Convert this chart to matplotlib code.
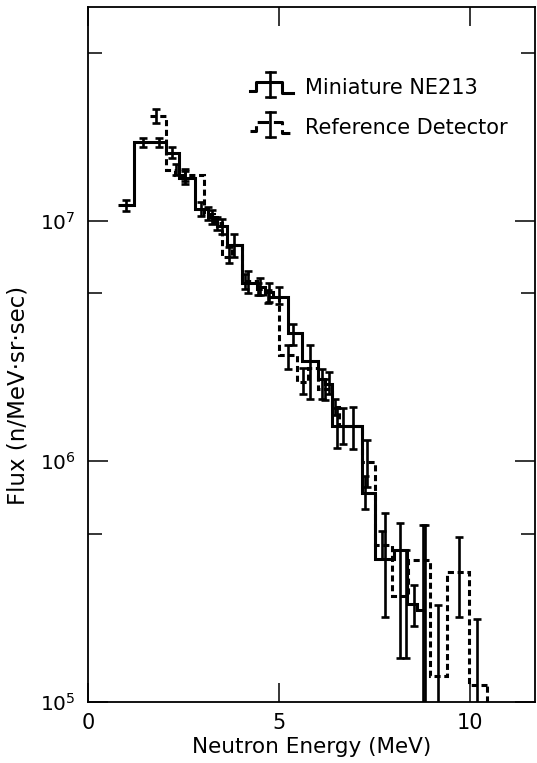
import numpy as np
import matplotlib.pyplot as plt
from matplotlib.lines import Line2D
from matplotlib.legend_handler import HandlerBase
from matplotlib.ticker import FixedLocator, NullFormatter

# Miniature NE213 -- solid histogram (bin edges in MeV, flux)
s_edges = [0.79, 1.20, 1.62, 2.03, 2.39, 2.80, 3.15, 3.37, 3.63, 4.02, 4.41, 4.63, 4.85,
           5.24, 5.59, 6.03, 6.20, 6.38, 6.56, 6.80, 7.16, 7.51, 8.00, 8.35, 8.62, 8.80]
s_flux = [1.16e7, 2.12e7, 2.12e7, 1.92e7, 1.51e7, 1.12e7, 1.04e7, 9.5e6, 7.9e6, 5.5e6,
          5.3e6, 5.07e6, 4.84e6, 3.4e6, 2.61e6, 2.2e6, 2.1e6, 1.40e6, 1.40e6, 1.40e6,
          7.4e5, 3.9e5, 4.26e5, 2.55e5, 2.4e5]
# error bars: position, lower, upper
s_err_e = [1.00, 1.45, 1.85, 2.20, 2.55, 2.95, 3.25, 3.50, 3.82, 4.19, 4.50, 4.74, 5.00,
           5.36, 5.80, 6.13, 6.30, 6.51, 6.68, 6.94, 7.25, 7.78, 8.17, 8.52, 8.76]
s_err_lo = [1.10e7, 2.02e7, 2.02e7, 1.82e7, 1.42e7, 1.05e7, 9.7e6, 8.8e6, 7.1e6, 5.0e6,
            4.9e6, 4.6e6, 4.5e6, 3.04e6, 1.82e6, 1.82e6, 1.9e6, 1.13e6, 1.18e6, 1.12e6,
            6.3e5, 2.24e5, 1.51e5, 2.07e5, 8.0e4]
s_err_hi = [1.22e7, 2.22e7, 2.22e7, 2.02e7, 1.61e7, 1.20e7, 1.11e7, 1.02e7, 8.8e6, 6.2e6,
            5.8e6, 5.5e6, 5.3e6, 3.73e6, 3.04e6, 2.43e6, 2.35e6, 1.67e6, 1.67e6, 1.68e6,
            8.7e5, 6.07e5, 5.53e5, 3.04e5, 5.4e5]

# Reference detector -- dashed histogram
d_edges = [1.62, 2.03, 2.28, 3.04, 3.30, 3.50, 3.76, 4.02, 4.41, 4.63, 5.00, 5.48, 5.75,
           6.03, 6.38, 6.56, 7.16, 7.50, 7.95, 8.38, 8.95, 9.39, 9.96, 10.44]
d_flux = [2.73e7, 1.63e7, 1.55e7, 1.07e7, 9.8e6, 7.1e6, 7.9e6, 5.6e6, 5.2e6, 4.84e6,
          2.77e6, 2.14e6, 2.45e6, 2.0e6, 1.68e6, 1.40e6, 9.9e5, 4.47e5, 2.76e5, 3.87e5,
          1.28e5, 3.46e5, 1.17e5]
d_err_e = [1.77, 2.30, 2.54, 3.15, 3.38, 3.70, 4.10, 4.45, 4.70, 5.24, 5.62, 6.20, 6.47,
           7.30, 7.70, 8.31, 8.82, 9.17, 9.72, 10.19]
d_err_lo = [2.55e7, 1.55e7, 1.47e7, 1.01e7, 9.2e6, 6.7e6, 5.2e6, 4.9e6, 4.55e6, 2.42e6,
            1.9e6, 1.8e6, 1.55e6, 7.8e5, 3.9e5, 1.52e5, 9.0e4, 8.0e4, 2.24e5, 8.0e4]
d_err_hi = [2.92e7, 1.72e7, 1.64e7, 1.14e7, 1.04e7, 7.8e6, 6.0e6, 5.5e6, 5.15e6, 3.04e6,
            2.45e6, 2.2e6, 1.82e6, 1.22e6, 5.1e5, 4.27e5, 5.4e5, 2.51e5, 4.83e5, 2.21e5]

ymin, ymax = 1e5, 7.76e7
lw = 2.2
elw = 1.9
dash = (0, (2.0, 1.2))


def bin_value(edges, vals, e):
    i = np.searchsorted(edges, e) - 1
    return np.asarray(vals)[np.clip(i, 0, len(vals) - 1)]


class HandlerPulse(HandlerBase):
    def create_artists(self, legend, orig_handle, xdescent, ydescent, width, height,
                       fontsize, trans):
        x0, y0, w, h = -xdescent, -ydescent, width, height
        xs = [x0, x0 + 0.14 * w, x0 + 0.14 * w, x0 + 0.76 * w, x0 + 0.76 * w, x0 + w]
        ys = [y0 + 0.37 * h, y0 + 0.37 * h, y0 + 0.72 * h, y0 + 0.72 * h,
              y0 + 0.26 * h, y0 + 0.26 * h]
        pulse = Line2D(xs, ys, color='k', lw=lw, linestyle=orig_handle.get_linestyle(),
                       transform=trans)
        xm = x0 + 0.48 * w
        yb, yt = y0 + 0.10 * h, y0 + 1.15 * h
        bar = Line2D([xm, xm], [yb, yt], color='k', lw=elw, transform=trans)
        c1 = Line2D([xm - 3, xm + 3], [yt, yt], color='k', lw=elw, transform=trans)
        c2 = Line2D([xm - 3, xm + 3], [yb, yb], color='k', lw=elw, transform=trans)
        return [pulse, bar, c1, c2]


fig = plt.figure(figsize=(5.37, 7.63), dpi=100)
ax = fig.add_axes([0.164, 0.0806, 0.8323, 0.9102])

ax.stairs(s_flux, s_edges, baseline=None, color='k', lw=lw)
ax.stairs(d_flux, d_edges, baseline=None, color='k', lw=lw, linestyle=dash)
ax.vlines(d_edges[-1], ymin, d_flux[-1], color='k', lw=lw, linestyle=dash)

s_y = bin_value(s_edges, s_flux, s_err_e)
ax.errorbar(s_err_e, s_y, yerr=[s_y - np.array(s_err_lo), np.array(s_err_hi) - s_y],
            fmt='none', ecolor='k', elinewidth=elw, capsize=3, capthick=elw)
d_y = bin_value(d_edges, d_flux, d_err_e)
ax.errorbar(d_err_e, d_y, yerr=[d_y - np.array(d_err_lo), np.array(d_err_hi) - d_y],
            fmt='none', ecolor='k', elinewidth=elw, capsize=3, capthick=elw)

ax.set_yscale('log')
ax.set_xlim(0, 11.7)
ax.set_ylim(ymin, ymax)
ax.set_xticks([0, 5, 10])
ax.set_xticklabels(['0', '5', '10'])
ax.yaxis.set_major_locator(FixedLocator([1e5, 1e6, 1e7]))
ax.yaxis.set_minor_locator(FixedLocator([5e5, 5e6, 5e7]))
ax.yaxis.set_minor_formatter(NullFormatter())
ax.xaxis.set_minor_locator(FixedLocator([]))

ax.tick_params(axis='y', which='major', direction='in', length=14.4, width=1.1,
               right=True, labelsize=14.5, pad=9)
ax.tick_params(axis='y', which='minor', direction='in', length=10, width=1.1, right=True)
ax.tick_params(axis='x', which='major', direction='in', length=14, width=1.1,
               top=True, labelsize=15, pad=8)
for sp in ax.spines.values():
    sp.set_linewidth(1.3)

ax.set_xlabel('Neutron Energy (MeV)', fontsize=15.5, labelpad=3)
ax.set_ylabel('Flux (n/MeV\u00b7sr\u00b7sec)', fontsize=16.5)
ax.yaxis.set_label_coords(-0.13, 0.44)

h1 = Line2D([], [], linestyle='-')
h2 = Line2D([], [], linestyle=dash)
ax.legend([h1, h2], ['Miniature NE213', 'Reference Detector'],
          handler_map={h1: HandlerPulse(), h2: HandlerPulse()},
          loc='upper left', bbox_to_anchor=(0.362, 0.901), frameon=False,
          fontsize=15, borderpad=0, borderaxespad=0, handlelength=2.05,
          handleheight=1.35, handletextpad=0.58, labelspacing=0.8)

fig.savefig('out.png', dpi=100)
